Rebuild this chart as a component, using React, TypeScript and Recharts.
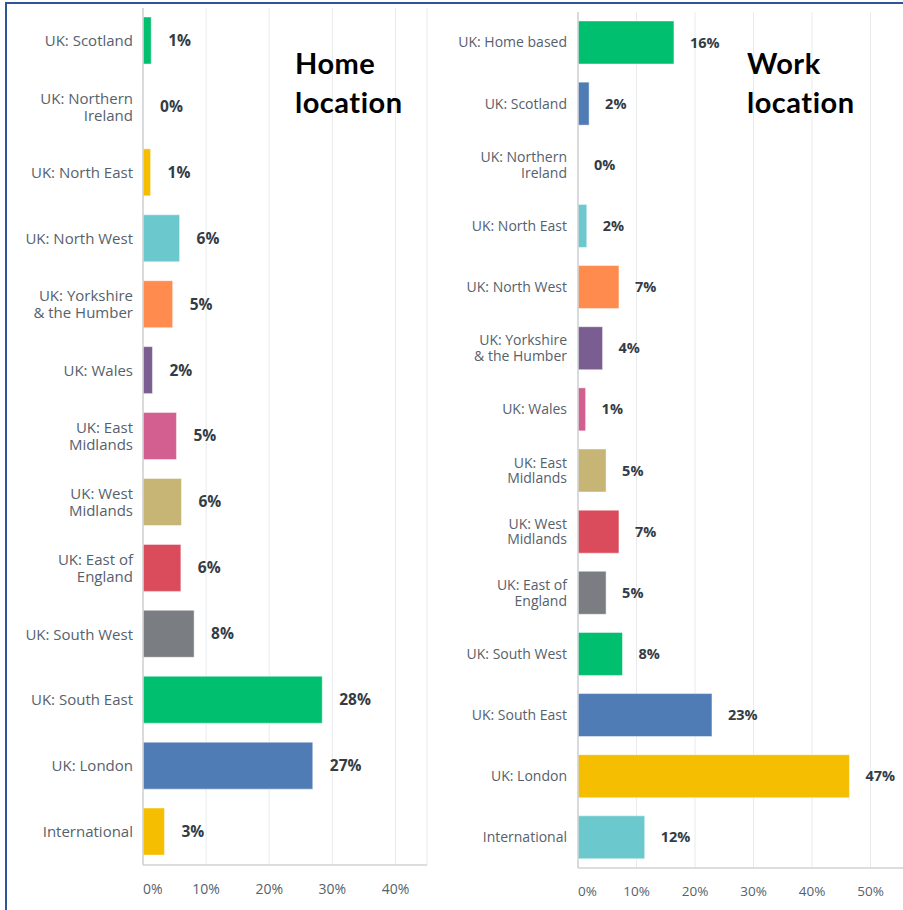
import React from 'react';
import { BarChart, Bar, XAxis, YAxis, CartesianGrid, Cell, LabelList } from 'recharts';

const homeCategories = [
  'UK: Scotland',
  'UK: Northern\nIreland',
  'UK: North East',
  'UK: North West',
  'UK: Yorkshire\n& the Humber',
  'UK: Wales',
  'UK: East\nMidlands',
  'UK: West\nMidlands',
  'UK: East of\nEngland',
  'UK: South West',
  'UK: South East',
  'UK: London',
  'International',
];
const homeValues = [1.3, 0, 1.2, 5.8, 4.7, 1.5, 5.3, 6.1, 6.0, 8.1, 28.4, 26.9, 3.4];
const homeLabels = [1, 0, 1, 6, 5, 2, 5, 6, 6, 8, 28, 27, 3];

const workCategories = [
  'UK: Home based',
  'UK: Scotland',
  'UK: Northern\nIreland',
  'UK: North East',
  'UK: North West',
  'UK: Yorkshire\n& the Humber',
  'UK: Wales',
  'UK: East\nMidlands',
  'UK: West\nMidlands',
  'UK: East of\nEngland',
  'UK: South West',
  'UK: South East',
  'UK: London',
  'International',
];
const workValues = [16.4, 1.9, 0, 1.5, 7.0, 4.2, 1.3, 4.8, 7.0, 4.8, 7.6, 22.9, 46.4, 11.4];
const workLabels = [16, 2, 0, 2, 7, 4, 1, 5, 7, 5, 8, 23, 47, 12];

const homeTicks = [0, 10, 20, 30, 40];
const workTicks = [0, 10, 20, 30, 40, 50];

const palette = ['#00BF6F', '#507CB6', '#F5BE00', '#6BC8CD', '#FF8B4F', '#7B5E91', '#D25F90', '#C7B576', '#DA4C5B', '#7A7D81'];

const homeData = homeCategories.map((name, i) => ({ name, value: homeValues[i], label: homeLabels[i] }));
const workData = workCategories.map((name, i) => ({ name, value: workValues[i], label: workLabels[i] }));

const FONT = '"Open Sans", sans-serif';
const LABEL_COLOR = '#56616C';
const VALUE_COLOR = '#333C45';
const AXIS_COLOR = '#CFD2D4';
const GRID_COLOR = '#E9EAEB';

function makeCategoryTick(fontSize: number, lineHeight: number) {
  return (props: any) => {
    const { x, y, payload } = props;
    const lines = String(payload.value).split('\n');
    const start = -((lines.length - 1) * lineHeight) / 2;
    return (
      <text x={x} y={y} textAnchor="end" fill={LABEL_COLOR} fontSize={fontSize} fontFamily={FONT}>
        {lines.map((l, i) => (
          <tspan key={i} x={x} y={y + start + i * lineHeight} dy="0.35em">
            {l}
          </tspan>
        ))}
      </text>
    );
  };
}

function makeNumberTick(fontSize: number) {
  return (props: any) => {
    const { x, y, payload, index } = props;
    return (
      <text
        x={x}
        y={y}
        dy="0.71em"
        textAnchor={index === 0 ? 'start' : 'middle'}
        fill={LABEL_COLOR}
        fontSize={fontSize}
        fontFamily={FONT}
      >
        {`${payload.value}%`}
      </text>
    );
  };
}

function makeValueLabel(fontSize: number, gap: number) {
  return (props: any) => {
    const { x, y, width, height, value } = props;
    return (
      <text
        x={Number(x) + Number(width || 0) + gap}
        y={Number(y) + Number(height) / 2}
        dy="0.35em"
        textAnchor="start"
        fill={VALUE_COLOR}
        fontSize={fontSize}
        fontWeight={700}
        fontFamily={FONT}
      >
        {value}%
      </text>
    );
  };
}

const titleStyle: React.CSSProperties = {
  position: 'absolute',
  fontFamily: 'Lato, sans-serif',
  fontWeight: 700,
  fontSize: 29,
  lineHeight: '39px',
  letterSpacing: '0.5px',
  color: '#000',
  whiteSpace: 'pre',
};

export default function App() {
  return (
    <div
      style={{
        position: 'absolute',
        left: 0,
        top: 0,
        width: 903,
        height: 910,
        overflow: 'hidden',
        background: '#fff',
      }}
    >
      <div style={{ position: 'absolute', left: 0, top: 0 }}>
        <BarChart
          width={440}
          height={910}
          data={homeData}
          layout="vertical"
          margin={{ top: 8, right: 13, bottom: 15, left: 0 }}
        >
          <CartesianGrid horizontal={false} stroke={GRID_COLOR} />
          <XAxis
            type="number"
            domain={[0, 45]}
            ticks={homeTicks}
            axisLine={{ stroke: AXIS_COLOR, strokeWidth: 1.5 }}
            tickLine={false}
            tickSize={0}
            tickMargin={19}
            height={30}
            tick={makeNumberTick(14)}
          />
          <YAxis
            type="category"
            dataKey="name"
            width={143}
            interval={0}
            axisLine={{ stroke: AXIS_COLOR, strokeWidth: 1.5 }}
            tickLine={false}
            tickSize={0}
            tickMargin={10}
            tick={makeCategoryTick(15, 17)}
          />
          <Bar
            dataKey="value"
            barSize={47}
            minPointSize={0.01}
            isAnimationActive={false}
            stroke="rgba(255,255,255,0.45)"
            strokeWidth={1}
          >
            {homeData.map((d, i) => (
              <Cell key={i} fill={palette[i % palette.length]} />
            ))}
            <LabelList dataKey="label" content={makeValueLabel(15.5, 17)} />
          </Bar>
        </BarChart>
      </div>

      <div style={{ position: 'absolute', left: 440, top: 0 }}>
        <BarChart
          width={489}
          height={910}
          data={workData}
          layout="vertical"
          margin={{ top: 12, right: 0, bottom: 12, left: 0 }}
        >
          <CartesianGrid horizontal={false} stroke={GRID_COLOR} />
          <XAxis
            type="number"
            domain={[0, 60]}
            ticks={workTicks}
            axisLine={{ stroke: AXIS_COLOR, strokeWidth: 1.5 }}
            tickLine={false}
            tickSize={0}
            tickMargin={18}
            height={30}
            tick={makeNumberTick(13.5)}
          />
          <YAxis
            type="category"
            dataKey="name"
            width={138}
            interval={0}
            axisLine={{ stroke: AXIS_COLOR, strokeWidth: 1.5 }}
            tickLine={false}
            tickSize={0}
            tickMargin={11}
            tick={makeCategoryTick(14, 15.5)}
          />
          <Bar
            dataKey="value"
            barSize={43}
            minPointSize={0.01}
            isAnimationActive={false}
            stroke="rgba(255,255,255,0.45)"
            strokeWidth={1}
          >
            {workData.map((d, i) => (
              <Cell key={i} fill={palette[i % palette.length]} />
            ))}
            <LabelList dataKey="label" content={makeValueLabel(14.5, 16)} />
          </Bar>
        </BarChart>
      </div>

      <div style={{ ...titleStyle, left: 295, top: 43 }}>{'Home\nlocation'}</div>
      <div style={{ ...titleStyle, left: 747, top: 43 }}>{'Work\nlocation'}</div>

      <div
        style={{
          position: 'absolute',
          left: 5,
          top: 2,
          width: 1000,
          height: 1000,
          borderLeft: '2px solid #2F5597',
          borderTop: '2px solid #2F5597',
          pointerEvents: 'none',
        }}
      />
    </div>
  );
}
